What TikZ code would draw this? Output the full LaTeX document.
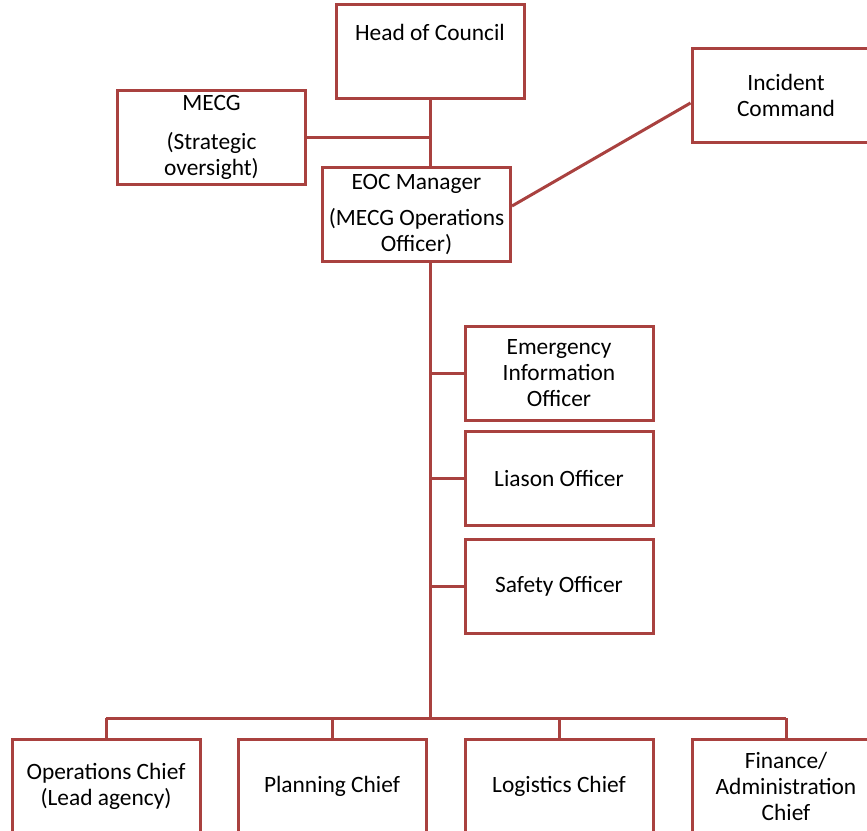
\documentclass[tikz,border=0pt]{standalone}
\usepackage{fontspec}
\setmainfont{Carlito}
\definecolor{boxred}{HTML}{A9413F}
\tikzset{
	box/.style={draw=boxred, line width=1.5pt, rectangle, minimum width=94pt, minimum height=47pt, align=center, inner sep=0pt, font=\fontsize{11.7}{13}\selectfont},
	link/.style={draw=boxred, line width=1.5pt}
}
\begin{document}
\begin{tikzpicture}[x=.5pt, y=-.5pt]
	\useasboundingbox (0,0) rectangle (867,830);
	% top
	\node[box] (head) at (430,51)    {Head of Council\\[6pt]~};
	\node[box] (mecg) at (211.5,137) {MECG\\[6.5pt](Strategic\\oversight)};
	\node[box] (ic)   at (786,95.5)  {Incident\\Command};
	\node[box] (eoc)  at (416.5,214.5) {EOC Manager\\[5pt](MECG Operations\\Officer)};
	% staff
	\node[box] (eio)  at (559,373.5) {Emergency\\Information\\Officer};
	\node[box] (lo)   at (559,478)   {Liason Officer};
	\node[box] (so)   at (559,586.5) {Safety Officer};
	% sections
	\node[box] (ops)  at (106,786)   {Operations Chief\\(Lead agency)};
	\node[box] (plan) at (332,786)   {Planning Chief};
	\node[box] (log)  at (559,786)   {Logistics Chief};
	\node[box] (fin)  at (786,786)   {Finance/\\Administration\\Chief};
	\coordinate (bar) at (430,718);
	% links
	\draw[link] (head.south -| 430,0) -- (eoc.north -| 430,0);
	\draw[link] (mecg.east |- 0,137) -- (430,137);
	\draw[link] (eoc.east |- 0,206) -- (ic.west |- 0,103);
	\draw[link] (eoc.south -| 430,0) -- (bar);
	\foreach \n in {eio,lo,so}
		\draw[link] (430,0 |- \n.west) -- (\n.west);
	\draw[link] (ops.north |- bar) -- (fin.north |- bar);
	\foreach \n in {ops,plan,log,fin}
		\draw[link] (\n.north |- bar) -- (\n.north);
\end{tikzpicture}
\end{document}
